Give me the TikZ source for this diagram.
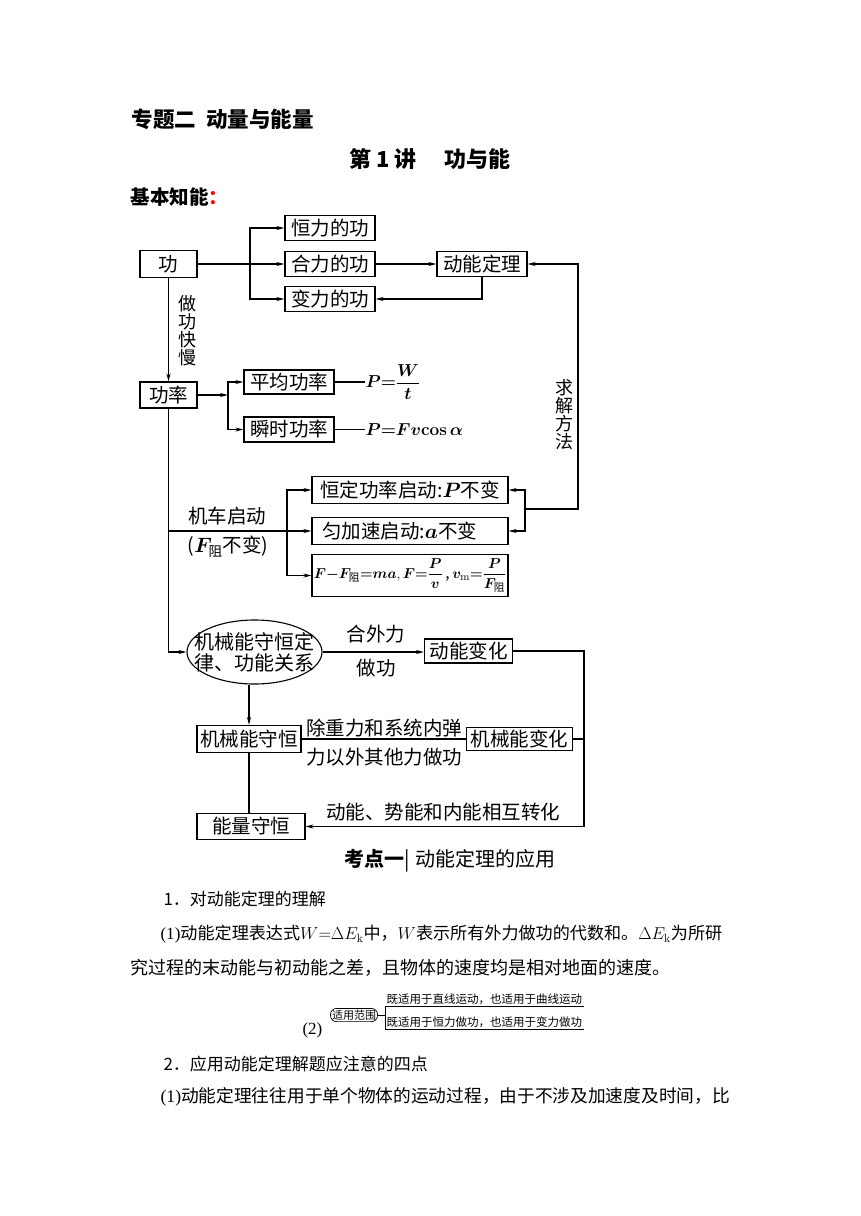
\documentclass[tikz,border=0pt]{standalone}
\usepackage{amsmath}
\usepackage{bm}
\usepackage[no-math]{fontspec}
\usepackage{xcolor}
\usepackage{tikz}
\usetikzlibrary{arrows.meta,positioning,calc}
\setmainfont{Noto Sans CJK SC}
\newfontfamily\latserif{Liberation Serif}
\newcommand\fsz[1]{\fontsize{#1}{#1}\selectfont}

\begin{document}
\begin{tikzpicture}[
  x=1pt, y=-1pt,
  line width=1.1pt,
  >={Stealth[length=8pt,width=4pt]},
  box/.style={draw,inner sep=0pt,minimum height=25pt,font=\fsz{19.5}},
  lab/.style={inner sep=0pt,font=\fsz{19.5}},
  vlab/.style={inner sep=0pt,align=center,font=\fontsize{18}{18}\selectfont},
  para/.style={anchor=west,inner sep=0pt,font=\fsz{18}}
]
\fill[white] (0,0) rectangle (860,1216);
\useasboundingbox (0,0) rectangle (860,1216);

% headings
\node[anchor=west,inner sep=0pt,font=\bfseries\fsz{21.5}] (ztitle) at (131,119) {专题二\hspace{10pt}动量与能量};
\node[inner sep=0pt,font=\bfseries\fsz{22}] (jtitle) at (430,159) {第 1 讲\hspace{28pt}功与能};
\node[anchor=west,inner sep=0pt,font=\bfseries\fsz{19.5}] (jbzn) at (130,197) {基本知能\textcolor{red}{：}};

% work
\node[box,minimum width=57pt,minimum height=27pt] (gong) at (168.5,264) {功};
\node[box,minimum width=90pt] (hengli) at (330,228) {恒力的功};
\node[box,minimum width=90pt] (heli) at (330,264) {合力的功};
\node[box,minimum width=90pt] (bianli) at (330,299) {变力的功};
\node[box,minimum width=90pt] (dnthm) at (482,264) {动能定理};
\coordinate (s1) at (250,264);
\draw[->] (gong) -- (heli);
\draw[<->] (hengli.west) -| (s1) |- (bianli.west);
\draw[->] (heli) -- (dnthm);
\draw[->] (dnthm.south) |- (bianli.east);

% power
\node[vlab] (zgkm) at (187,331) {做\\功\\快\\慢};
\node[box,minimum width=57pt,minimum height=26pt] (gonglv) at (168.5,395) {功率};
\node[box,minimum width=90pt,minimum height=24pt] (pingjun) at (289,382) {平均功率};
\node[box,minimum width=90pt] (shunshi) at (289,429.5) {瞬时功率};
\node[anchor=west,inner sep=0pt,font=\fsz{17}] (fpj) at (365,382) {$\bm{P{=}}\dfrac{\bm W}{\bm t}$};
\node[anchor=west,inner sep=0pt,font=\fsz{17}] (fss) at (365,429.5) {$\bm{P{=}Fv}\mathbf{cos}\,\bm\alpha$};
\coordinate (s2) at (228,395);
\draw[->] (gong) -- (gonglv);
\draw[->] (gonglv) -- (s2);
\draw[<->] (pingjun.west) -| (s2) |- (shunshi.west);
\draw (pingjun.east) -- (fpj.west);
\draw (shunshi.east) -- (fss.west);

% vehicle start
\node[lab] (jcqd) at (227,516) {机车启动};
\node[lab] (fzbb) at (228,547) {($\bm F_{\text{阻}}$不变)};
\node[box,minimum width=196pt,minimum height=27pt] (hengding) at (410,490) {恒定功率启动:$\bm P$不变};
\node[box,minimum height=27pt,text width=176pt,inner xsep=10pt,align=left] (yunjia) at (410,531) {匀加速启动:$\bm a$不变};
\node[box,minimum width=196pt,minimum height=42pt,font=\fsz{15.3}] (fbox) at (410,575.5)
  {$\bm F{\bm -}\bm F_{\text{阻}}{\bm =}\bm{ma},\bm F{\bm =}\dfrac{\bm P}{\bm v}$\,,\,$\bm v_{\mathrm m}{\bm =}\dfrac{\bm P}{\bm F_{\text{阻}}}$};
\coordinate (s4) at (287,531);
\draw[->] (gonglv.south |- yunjia.west) -- (yunjia.west);
\draw[<->] (hengding.west) -| (s4) |- (fbox.west);
\node[vlab] (qjff) at (564,415) {求\\解\\方\\法};
\coordinate (qj) at (525,509);
\coordinate (qr) at (578,509);
\draw[->] (qj) -- (qr) |- (dnthm.east);
\draw[<->] (hengding.east) -| (qj) |- (yunjia.east);

% energy
\node[inner sep=0pt,minimum width=135pt,minimum height=64pt,align=center,
  font=\fontsize{20}{21}\selectfont] (jxn) at (254.5,652) {机械能守恒定\\律、功能关系};
\draw (jxn.center) ellipse (67.5 and 32);
\node[box,minimum width=88pt,minimum height=24pt] (dnbh) at (468.5,651) {动能变化};
\node[lab] (hwl) at (376,634) {合外力};
\node[lab] (zg) at (376,668) {做功};
\node[box,minimum width=104pt,minimum height=27pt] (jxsh) at (249,739) {机械能守恒};
\node[box,minimum width=106pt,minimum height=23pt] (jxbh) at (519.5,739) {机械能变化};
\node[lab] (czl1) at (384,728) {除重力和系统内弹};
\node[lab] (czl2) at (384,757) {力以外其他力做功};
\node[box,minimum width=108pt,minimum height=26pt] (nlsh) at (251,826.5) {能量守恒};
\node[lab] (dnsn) at (443,812) {动能、势能和内能相互转化};
\coordinate (rr) at (584,739);
\draw[->] (gonglv.south) |- (jxn.west);
\draw[->] (jxn.east) -- (jxn.east -| dnbh.west);
\draw[->] (jxn.south -| jxsh.north) -- (jxsh.north);
\draw (jxsh) -- (jxbh);
\draw (jxsh.south) -- (jxsh.south |- nlsh.north);
\draw[->] (dnbh.east) -| (rr) |- (nlsh.east);
\draw (jxbh.east) -- (rr);

% text below
\node[inner sep=0pt,font=\fsz{20}] (kd) at (450,861) {\textbf{考点一}|\hspace{6pt}动能定理的应用};
\node[para,font=\fsz{17}] (t1) at (163,899) {1．对动能定理的理解};
\node[para,font=\fsz{17.1}] (p1) at (160,934) {{\latserif (1)}动能定理表达式$W{=}\Delta E_{\mathrm k}$中，$W$表示所有外力做功的代数和。$\Delta E_{\mathrm k}$为所研};
\node[para] (p2) at (130,968) {究过程的末动能与初动能之差，且物体的速度均是相对地面的速度。};
\node[para,font=\latserif\fsz{17}] (n2) at (302,1030) {(2)};
\node[draw,rounded corners=6pt,inner sep=1.5pt,line width=0.7pt,font=\fsz{11}] (sy) at (354,1015) {适用范围};
\coordinate (sz) at (385,1015);
\node[anchor=south west,inner sep=1pt,font=\fsz{11.5}] (sy1) at (385,1006) {既适用于直线运动，也适用于曲线运动};
\node[anchor=south west,inner sep=1pt,font=\fsz{11.5}] (sy2) at (385,1029) {既适用于恒力做功，也适用于变力做功};
\draw[line width=0.7pt] (sy.east) -- (sz);
\draw[line width=0.7pt] (sy1.south east) -- (sy1.south west) -- (sy2.south west) -- (sy2.south east);
\node[para,font=\fsz{17}] (t2) at (163,1064) {2．应用动能定理解题应注意的四点};
\node[para,font=\fsz{17.7}] (p3) at (160,1097) {{\latserif (1)}动能定理往往用于单个物体的运动过程，由于不涉及加速度及时间，比};
\end{tikzpicture}
\end{document}
